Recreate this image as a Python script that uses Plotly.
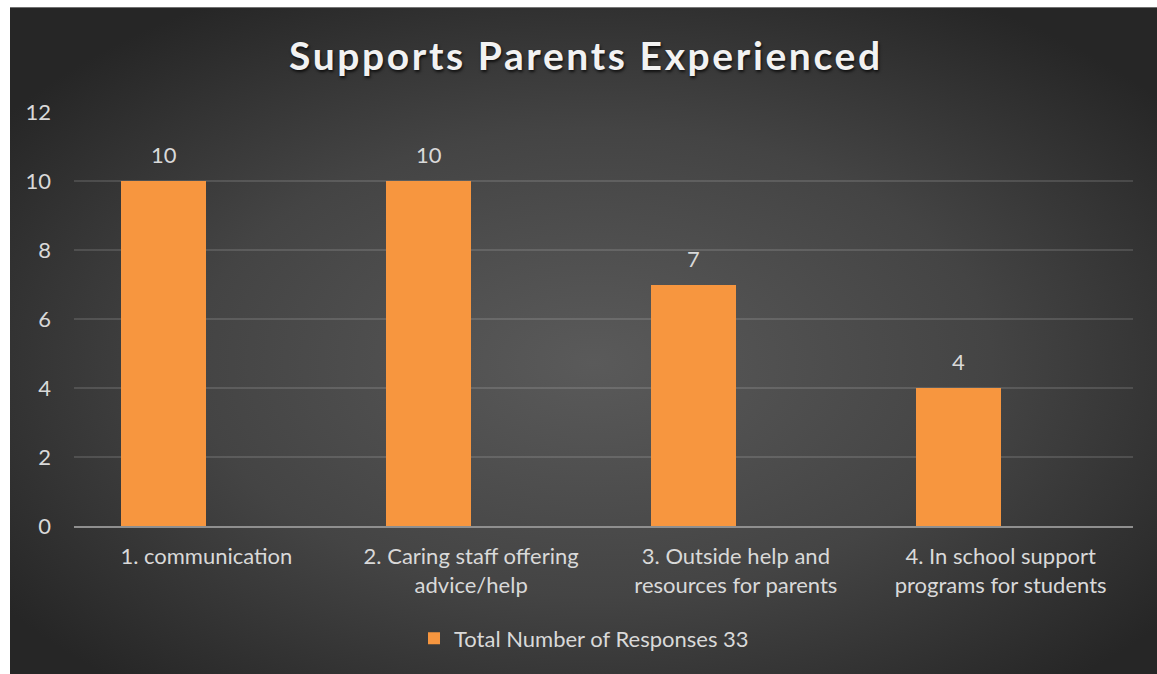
import base64
import plotly.graph_objects as go

# Survey results
categories = [
    "1. communication",
    "2. Caring staff offering<br>advice/help",
    "3. Outside help and<br>resources for parents",
    "4. In school support<br>programs for students",
]
responses = [10, 10, 7, 4]
series_name = "Total Number of Responses 33"
y_ticks = [0, 2, 4, 6, 8, 10, 12]

W, H = 1157, 674
L, R, T, B = 74, 24, 112, 147.5
plot_w = W - L - R
plot_h = H - T - B

BAR_W = 0.321  # bar occupies the left half-slot of each category
TEXT = "#d9d9d9"
FONT = "Lato, 'Open Sans', sans-serif"
FS = 22

# Dark radial backdrop for the chart area
svg = (
    '<svg xmlns="http://www.w3.org/2000/svg" width="1147" height="667" '
    'preserveAspectRatio="none">'
    '<defs><radialGradient id="g" cx="50%" cy="52%" r="62%">'
    '<stop offset="0%" stop-color="#5a5a5a"/>'
    '<stop offset="55%" stop-color="#444444"/>'
    '<stop offset="100%" stop-color="#262626"/>'
    '</radialGradient></defs>'
    '<rect width="100%" height="100%" fill="url(#g)"/></svg>'
)
bg_src = "data:image/svg+xml;base64," + base64.b64encode(svg.encode()).decode()

fig = go.Figure()
fig.add_trace(
    go.Bar(
        x=categories,
        y=responses,
        name=series_name,
        width=BAR_W,
        offset=-BAR_W,
        marker=dict(color="#f7963f", line=dict(width=0)),
        showlegend=True,
        hoverinfo="x+y",
    )
)

# Value labels above each bar
annotations = []
for i, v in enumerate(responses):
    annotations.append(
        dict(
            x=i - BAR_W / 2,
            y=v,
            xref="x",
            yref="y",
            text=str(v),
            showarrow=False,
            yanchor="bottom",
            yshift=11,
            font=dict(family=FONT, size=FS, color=TEXT),
        )
    )

# Chart title with letter spacing and a soft shadow
annotations.append(
    dict(
        x=(W / 2 + 7 - L) / plot_w,
        y=(H - B - 55) / plot_h,
        xref="paper",
        yref="paper",
        text='<span style="letter-spacing:2.6px">Supports Parents Experienced</span>',
        showarrow=False,
        xanchor="center",
        yanchor="middle",
        font=dict(
            family=FONT,
            size=39,
            color="#f2f2f2",
            weight="bold",
            shadow="1px 2px 3px rgba(0,0,0,0.75)",
        ),
    )
)

fig.update_layout(
    width=W,
    height=H,
    margin=dict(l=L, r=R, t=T, b=B, autoexpand=False),
    paper_bgcolor="white",
    plot_bgcolor="rgba(0,0,0,0)",
    font=dict(family=FONT, size=FS, color=TEXT),
    annotations=annotations,
    images=[
        dict(
            source=bg_src,
            xref="paper",
            yref="paper",
            x=(10 - L) / plot_w,
            y=(H - B - 7) / plot_h,
            sizex=(W + 10) / plot_w,
            sizey=(H + 10) / plot_h,
            xanchor="left",
            yanchor="top",
            sizing="stretch",
            layer="below",
        )
    ],
    showlegend=True,
    legend=dict(
        orientation="h",
        x=(584 - L) / plot_w,
        xanchor="center",
        y=(H - B - 639) / plot_h,
        yanchor="middle",
        font=dict(family=FONT, size=FS, color=TEXT),
        bgcolor="rgba(0,0,0,0)",
    ),
    bargap=0,
)

fig.update_xaxes(
    type="category",
    showgrid=False,
    showline=True,
    linecolor="#8f8f8f",
    linewidth=2,
    ticks="",
    ticklabelstandoff=10,
    tickfont=dict(family=FONT, size=FS, color=TEXT),
    fixedrange=True,
)
fig.update_yaxes(
    range=[0, 12],
    tickvals=y_ticks,
    showgrid=True,
    gridcolor="rgba(255,255,255,0.13)",
    gridwidth=1.5,
    zeroline=False,
    showline=False,
    ticks="",
    ticklabelstandoff=22,
    tickfont=dict(family=FONT, size=FS, color=TEXT),
    fixedrange=True,
)

fig.write_html("out.html")
